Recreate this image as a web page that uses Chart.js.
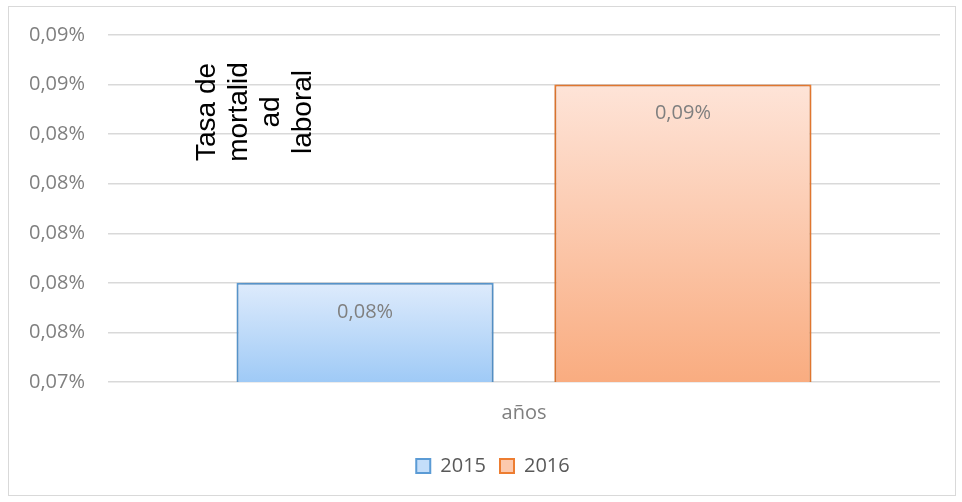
<!DOCTYPE html>
<html>
<head>
<meta charset="utf-8">
<script src="https://cdn.jsdelivr.net/npm/chart.js@4"></script>
<style>
  html, body { margin: 0; padding: 0; background: #fff; }
  #wrap { width: 962px; height: 502px; }
</style>
</head>
<body>
<div id="wrap"><canvas id="grafico" width="962" height="502"></canvas></div>
<script>
// Datos del gráfico
const categorias = ['años'];
const series = ['2015', '2016'];
const valores2015 = [0.078];
const valores2016 = [0.086];
const marcasY = [0.074, 0.076, 0.078, 0.080, 0.082, 0.084, 0.086, 0.088];
const tituloY = ['Tasa de', 'mortalid', 'ad', 'laboral'];

const fuente = '"Open Sans", "DejaVu Sans", sans-serif';

function formato(v) {
    return v.toFixed(2).replace('.', ',') + '%';
}

// Degradado vertical para cada barra
function degradado(arriba, abajo, solido) {
    return function (c) {
        const chart = c.chart;
        const area = chart.chartArea;
        if (!area) return solido;
        const top = chart.scales.y.getPixelForValue(c.raw);
        const g = chart.ctx.createLinearGradient(0, top, 0, area.bottom);
        g.addColorStop(0, arriba);
        g.addColorStop(1, abajo);
        return g;
    };
}

// Marco exterior y fondo
const marco = {
    id: 'marco',
    beforeDraw(chart) {
        const ctx = chart.ctx;
        ctx.save();
        ctx.fillStyle = '#fff';
        ctx.fillRect(0, 0, chart.width, chart.height);
        ctx.strokeStyle = '#d9d9d9';
        ctx.lineWidth = 1;
        ctx.strokeRect(8.5, 6.5, 947, 489);
        ctx.restore();
    }
};

// Centra la leyenda bajo el área del gráfico
const moverLeyenda = {
    id: 'moverLeyenda',
    afterLayout(chart) {
        const lg = chart.legend;
        if (!lg) return;
        lg.left += 23;
        lg.right += 23;
    }
};

// Sombra suave de las barras
const sombra = {
    id: 'sombra',
    beforeDatasetsDraw(chart) {
        const ctx = chart.ctx;
        ctx.save();
        ctx.shadowColor = 'rgba(0,0,0,0.25)';
        ctx.shadowBlur = 5;
    },
    afterDatasetsDraw(chart) {
        chart.ctx.restore();
    }
};

// Etiquetas de datos dentro de las barras
const etiquetas = {
    id: 'etiquetas',
    afterDatasetsDraw(chart) {
        const ctx = chart.ctx;
        ctx.save();
        ctx.font = '20px ' + fuente;
        ctx.fillStyle = '#7f7f7f';
        ctx.textAlign = 'center';
        ctx.textBaseline = 'middle';
        chart.data.datasets.forEach((ds, i) => {
            chart.getDatasetMeta(i).data.forEach((bar, j) => {
                ctx.fillText(formato(ds.data[j]), bar.x, bar.y + 29);
            });
        });
        ctx.restore();
    }
};

// Título del eje Y (girado, dentro del área como en el original)
const titulo = {
    id: 'titulo',
    afterDraw(chart) {
        const a = chart.chartArea;
        const ctx = chart.ctx;
        ctx.save();
        ctx.translate(a.left + 146, a.top + 77);
        ctx.rotate(-Math.PI / 2);
        ctx.font = '28px "Liberation Sans", Arial, sans-serif';
        ctx.fillStyle = '#000';
        ctx.textAlign = 'center';
        ctx.textBaseline = 'alphabetic';
        tituloY.forEach((t, i) => {
            ctx.fillText(t, 0, -39 + i * 32);
        });
        ctx.restore();
    }
};

const ctx = document.getElementById('grafico').getContext('2d');
const grafico = new Chart(ctx, {
    type: 'bar',
    data: {
        labels: categorias,
        datasets: [{
            label: series[0],
            data: valores2015,
            backgroundColor: degradado('#deebfc', '#9fcaf6', '#bcdaf8'),
            borderColor: '#5b9bd5',
            borderWidth: 2,
            borderSkipped: false
        }, {
            label: series[1],
            data: valores2016,
            backgroundColor: degradado('#fee4d8', '#f9ac80', '#fbc4a6'),
            borderColor: '#ed7d31',
            borderWidth: 2,
            borderSkipped: false
        }]
    },
    options: {
        responsive: false,
        animation: false,
        categoryPercentage: 0.764,
        barPercentage: 0.809,
        layout: { padding: { left: 0, right: 22, top: 35, bottom: 16 } },
        plugins: {
            tooltip: { enabled: false },
            legend: {
                position: 'bottom',
                labels: {
                    font: { family: fuente, size: 20 },
                    color: '#595959',
                    boxWidth: 14,
                    boxHeight: 14,
                    padding: 14,
                    generateLabels: function (chart) {
                        const rellenos = ['#c4defa', '#fcc9ad'];
                        return chart.data.datasets.map((ds, i) => ({
                            text: ds.label,
                            fillStyle: rellenos[i],
                            strokeStyle: ds.borderColor,
                            lineWidth: 2,
                            fontColor: '#595959',
                            datasetIndex: i
                        }));
                    }
                }
            }
        },
        scales: {
            x: {
                grid: { display: false },
                border: { display: false },
                ticks: {
                    color: '#7f7f7f',
                    font: { family: fuente, size: 20 },
                    padding: 11
                },
                afterFit: s => { s.height = 60; }
            },
            y: {
                min: marcasY[0],
                max: marcasY[marcasY.length - 1],
                afterBuildTicks: s => { s.ticks = marcasY.map(v => ({ value: v })); },
                grid: { color: '#d9d9d9', lineWidth: 1.5, drawTicks: false },
                border: { display: false },
                ticks: {
                    color: '#7f7f7f',
                    font: { family: fuente, size: 20 },
                    padding: 23,
                    callback: v => formato(v)
                },
                afterFit: s => { s.width = 108; }
            }
        }
    },
    plugins: [marco, moverLeyenda, sombra, etiquetas, titulo]
});
</script>
</body>
</html>
